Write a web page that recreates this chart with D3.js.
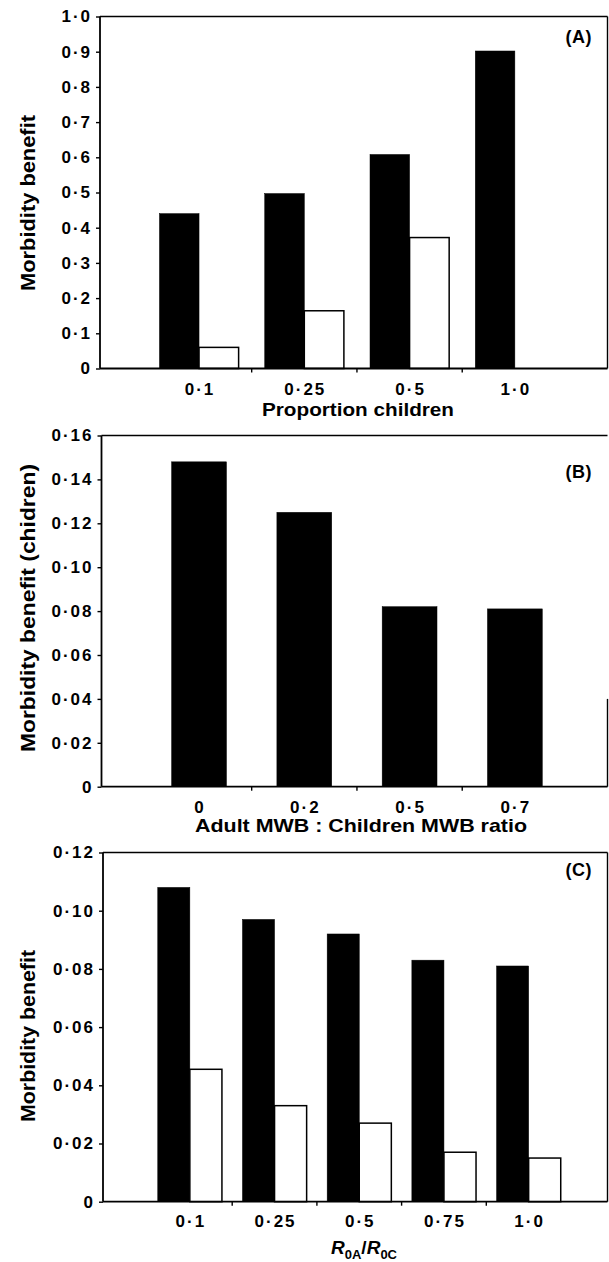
<!DOCTYPE html>
<html>
<head>
<meta charset="utf-8">
<script src="https://cdn.jsdelivr.net/npm/d3@7"></script>
<style>
  html, body { margin: 0; padding: 0; background: #fff; }
  svg { display: block; }
  text { font-family: "Liberation Sans", Arial, Helvetica, sans-serif; fill: #000; font-weight: bold; }
</style>
</head>
<body>
<svg id="chart" width="609" height="1262"></svg>
<script>
// ---------- Data ----------
const categoriesA = ["0.1", "0.25", "0.5", "1.0"];
const blackA = [0.440, 0.497, 0.608, 0.902];
const whiteA = [0.060, 0.164, 0.372, 0.0];
const ticksA = [0, 0.1, 0.2, 0.3, 0.4, 0.5, 0.6, 0.7, 0.8, 0.9, 1.0];

const categoriesB = ["0", "0.2", "0.5", "0.7"];
const valuesB = [0.148, 0.125, 0.082, 0.081];
const ticksB = [0, 0.02, 0.04, 0.06, 0.08, 0.10, 0.12, 0.14, 0.16];

const categoriesC = ["0.1", "0.25", "0.5", "0.75", "1.0"];
const blackC = [0.108, 0.097, 0.092, 0.083, 0.081];
const whiteC = [0.0455, 0.033, 0.027, 0.017, 0.015];
const ticksC = [0, 0.02, 0.04, 0.06, 0.08, 0.10, 0.12];

// ---------- Helpers ----------
const svg = d3.select("#chart");
const dot = s => s.replace(/\./g, "\u00B7");
const fmt1 = v => v === 0 ? "0" : dot(d3.format(".1f")(v));
const fmt2 = v => v === 0 ? "0" : dot(d3.format(".2f")(v));

function panel(cfg) {
  const g = svg.append("g");
  const y = d3.scaleLinear().domain([0, cfg.ymax]).range([cfg.bottom, cfg.top]);
  const x0 = d3.scaleBand().domain(cfg.categories).range(cfg.bandRange).padding(0);
  const x1 = d3.scaleBand().domain(cfg.series.map(s => s.key))
    .range([0, x0.bandwidth()]).paddingInner(0).paddingOuter(cfg.innerPad);

  // frame: top border and right border
  g.append("line").attr("x1", cfg.left).attr("x2", cfg.right)
    .attr("y1", cfg.top).attr("y2", cfg.top)
    .attr("stroke", "#000").attr("stroke-width", 1.4);
  g.append("line").attr("x1", cfg.right).attr("x2", cfg.right)
    .attr("y1", cfg.rightFrom !== undefined ? y(cfg.rightFrom) : cfg.top).attr("y2", cfg.bottom)
    .attr("stroke", "#000").attr("stroke-width", 1.4);

  // bars
  cfg.series.forEach(s => {
    g.append("g").selectAll("rect")
      .data(cfg.categories.map((c, i) => ({ c, v: s.values[i] })).filter(d => d.v > 0))
      .join("rect")
      .attr("x", d => x0(d.c) + x1(s.key))
      .attr("y", d => y(d.v))
      .attr("width", x1.bandwidth())
      .attr("height", d => y(0) - y(d.v))
      .attr("fill", s.fill)
      .attr("stroke", "#000")
      .attr("stroke-width", s.fill === "#fff" ? 1.5 : 0.5);
  });

  // y axis
  const ya = g.append("g").attr("transform", `translate(${cfg.left},0)`)
    .call(d3.axisLeft(y).tickValues(cfg.ticks).tickFormat(cfg.fmt).tickSize(4).tickPadding(4));
  ya.select(".domain").attr("stroke-width", 1.8).attr("d", `M0,${cfg.top}V${cfg.bottom}`);
  ya.selectAll(".tick line").attr("stroke-width", 1.4);
  ya.selectAll(".tick text").attr("font-size", 17).attr("font-family", null)
    .style("letter-spacing", "2px");

  // x axis baseline
  g.append("line").attr("x1", cfg.left).attr("x2", cfg.right)
    .attr("y1", cfg.bottom).attr("y2", cfg.bottom)
    .attr("stroke", "#000").attr("stroke-width", 1.8);
  // x tick marks between categories
  g.append("g").selectAll("line")
    .data(cfg.categories.slice(1))
    .join("line")
    .attr("x1", d => x0(d)).attr("x2", d => x0(d))
    .attr("y1", cfg.bottom).attr("y2", cfg.bottom + 4)
    .attr("stroke", "#000").attr("stroke-width", 1.4);
  // x labels
  const xa = g.append("g").attr("transform", `translate(1,${cfg.bottom})`)
    .call(d3.axisBottom(x0).tickSize(0).tickFormat(d => dot(d)));
  xa.select(".domain").remove();
  xa.selectAll(".tick text").attr("font-size", 17).attr("font-family", null)
    .attr("y", cfg.xLabelDy).attr("dy", 0).style("letter-spacing", "2px");

  // panel tag
  g.append("text").attr("x", 592).attr("y", cfg.tagY).attr("text-anchor", "end")
    .attr("font-size", 18).style("letter-spacing", "0.5px").text(cfg.tag);

  // y title
  g.append("text")
    .attr("transform", `translate(${cfg.yTitleX},${cfg.yTitleY}) rotate(-90)`)
    .attr("text-anchor", "middle").attr("font-size", 20)
    .attr("textLength", cfg.yTitleLen).attr("lengthAdjust", "spacingAndGlyphs")
    .text(cfg.yTitle);

  return { g, x0, y };
}

// ---------- Panel A ----------
panel({
  categories: categoriesA,
  series: [{ key: "black", values: blackA, fill: "#000" }, { key: "white", values: whiteA, fill: "#fff" }],
  ymax: 1.0, ticks: ticksA, fmt: fmt1,
  left: 100, right: 607.5, top: 16.5, bottom: 368.5,
  bandRange: [146.4, 567.5], innerPad: 0.33,
  xLabelDy: 26, tag: "(A)", tagY: 43,
  yTitle: "Morbidity benefit", yTitleX: 35, yTitleY: 203, yTitleLen: 176
});
svg.append("text").attr("x", 358).attr("y", 416).attr("text-anchor", "middle")
  .attr("font-size", 19).attr("textLength", 192).attr("lengthAdjust", "spacingAndGlyphs")
  .text("Proportion children");

// ---------- Panel B ----------
panel({
  categories: categoriesB,
  series: [{ key: "black", values: valuesB, fill: "#000" }],
  ymax: 0.16, ticks: ticksB, fmt: fmt2,
  left: 101.5, right: 607.5, top: 435.5, bottom: 786.7, rightFrom: 0.04,
  bandRange: [146.4, 567.5], innerPad: 0.46,
  xLabelDy: 26, tag: "(B)", tagY: 478,
  yTitle: "Morbidity benefit (chidren)", yTitleX: 35, yTitleY: 608, yTitleLen: 288
});
svg.append("text").attr("x", 361).attr("y", 832).attr("text-anchor", "middle")
  .attr("font-size", 19).attr("textLength", 332).attr("lengthAdjust", "spacingAndGlyphs")
  .text("Adult MWB : Children MWB ratio");

// ---------- Panel C ----------
panel({
  categories: categoriesC,
  series: [{ key: "black", values: blackC, fill: "#000" }, { key: "white", values: whiteC, fill: "#fff" }],
  ymax: 0.12, ticks: ticksC, fmt: fmt2,
  left: 103, right: 607.5, top: 852.5, bottom: 1201.7,
  bandRange: [147.5, 571], innerPad: 0.32,
  xLabelDy: 25, tag: "(C)", tagY: 876,
  yTitle: "Morbidity benefit", yTitleX: 35, yTitleY: 1036, yTitleLen: 172
});
const tC = svg.append("text").attr("x", 364).attr("y", 1254).attr("text-anchor", "middle")
  .attr("font-size", 19);
tC.append("tspan").attr("font-style", "italic").text("R");
tC.append("tspan").attr("font-size", 13).attr("dy", 5).text("0A");
tC.append("tspan").attr("dy", -5).text("/");
tC.append("tspan").attr("font-style", "italic").text("R");
tC.append("tspan").attr("font-size", 13).attr("dy", 5).text("0C");
</script>
</body>
</html>
